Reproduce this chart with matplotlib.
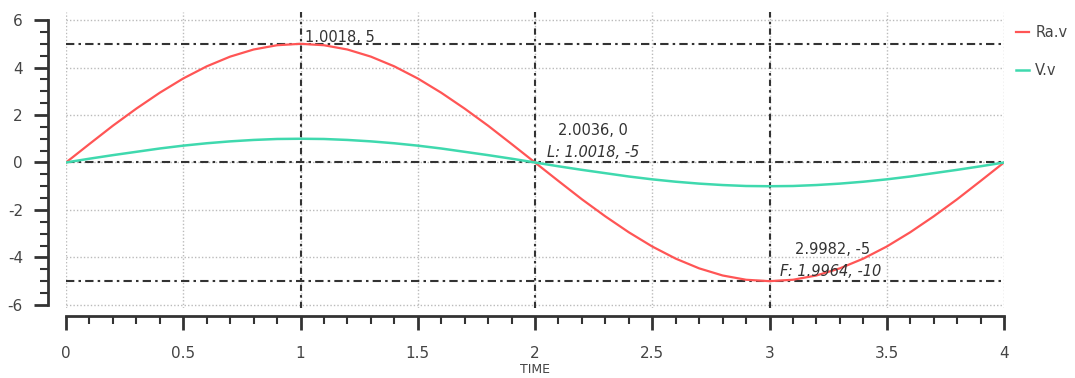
import matplotlib
matplotlib.use('Agg')
import matplotlib.pyplot as plt
from matplotlib.ticker import MultipleLocator

plt.rcParams['axes.unicode_minus'] = False

# values, every 0.1 of TIME
time = [0.0, 0.1, 0.2, 0.3, 0.4, 0.5, 0.6, 0.7, 0.8, 0.9, 1.0,
        1.1, 1.2, 1.3, 1.4, 1.5, 1.6, 1.7, 1.8, 1.9, 2.0,
        2.1, 2.2, 2.3, 2.4, 2.5, 2.6, 2.7, 2.8, 2.9, 3.0,
        3.1, 3.2, 3.3, 3.4, 3.5, 3.6, 3.7, 3.8, 3.9, 4.0]
ra_v = [0.0, 0.78, 1.55, 2.27, 2.94, 3.54, 4.05, 4.46, 4.76, 4.94, 5.0,
        4.94, 4.76, 4.46, 4.05, 3.54, 2.94, 2.27, 1.55, 0.78, 0.0,
        -0.78, -1.55, -2.27, -2.94, -3.54, -4.05, -4.46, -4.76, -4.94, -5.0,
        -4.94, -4.76, -4.46, -4.05, -3.54, -2.94, -2.27, -1.55, -0.78, 0.0]
v_v = [0.0, 0.16, 0.31, 0.45, 0.59, 0.71, 0.81, 0.89, 0.95, 0.99, 1.0,
       0.99, 0.95, 0.89, 0.81, 0.71, 0.59, 0.45, 0.31, 0.16, 0.0,
       -0.16, -0.31, -0.45, -0.59, -0.71, -0.81, -0.89, -0.95, -0.99, -1.0,
       -0.99, -0.95, -0.89, -0.81, -0.71, -0.59, -0.45, -0.31, -0.16, 0.0]

cursor_x = [1, 2, 3]
cursor_y = [5, 0, -5]
labels = [(1.02, 5.25, '1.0018, 5', 'normal'),
          (2.10, 1.35, '2.0036, 0', 'normal'),
          (2.05, 0.42, 'L: 1.0018, -5', 'italic'),
          (3.11, -3.66, '2.9982, -5', 'normal'),
          (3.045, -4.6, 'F: 1.9964, -10', 'italic')]

red = '#ff5555'
teal = '#3fd9ae'
dark = '#333333'

fig = plt.figure(figsize=(10.75, 3.78), dpi=100)
W, H = 1075, 378
ax = fig.add_axes([66 / W, 1 - 308 / H, (1004 - 66) / W, (308 - 12) / H])
ax.set_xlim(0, 4)
ax.set_ylim(-6.13, 6.34)

ax.grid(True, which='major', color='#bbbbbb', linestyle=(0, (1, 1.5)), linewidth=1)
for y in cursor_y:
    ax.axhline(y, color=dark, linewidth=1.5, dashes=(4, 2, 1.2, 2), zorder=2)
for x in cursor_x:
    ax.axvline(x, color=dark, linewidth=1.5, dashes=(3, 2, 1.2, 2), zorder=2)

ax.plot(time, ra_v, color=red, linewidth=1.6, label='Ra.v', zorder=3)
ax.plot(time, v_v, color=teal, linewidth=1.8, label='V.v', zorder=3)

for x, y, s, st in labels:
    ax.text(x, y, s, fontsize=10.5, color=dark, style=st, ha='left', va='center', zorder=4)

ax.xaxis.set_minor_locator(MultipleLocator(0.1))
ax.yaxis.set_minor_locator(MultipleLocator(0.5))
ax.set_xticks([0, 0.5, 1, 1.5, 2, 2.5, 3, 3.5, 4])
ax.set_xticklabels(['0', '0.5', '1', '1.5', '2', '2.5', '3', '3.5', '4'])
ax.set_yticks([-6, -4, -2, 0, 2, 4, 6])

for side in ['top', 'right']:
    ax.spines[side].set_visible(False)
ax.spines['left'].set_position(('outward', 13))
ax.spines['bottom'].set_position(('outward', 6))
ax.spines['left'].set_bounds(-6, 6)
for side in ['left', 'bottom']:
    ax.spines[side].set_linewidth(2)
    ax.spines[side].set_color(dark)

ax.tick_params(which='major', length=10, width=2, color=dark, labelsize=11, labelcolor='#444444')
ax.tick_params(which='minor', length=6, width=1.5, color=dark)
ax.tick_params(axis='x', which='major', pad=11)
ax.tick_params(axis='y', which='major', pad=8)
ax.set_xlabel('TIME', fontsize=9, color='#444444', labelpad=2)

ax.legend(loc='upper left', bbox_to_anchor=(0.999, 1.0), frameon=False, handlelength=0.9,
          handletextpad=0.4, labelspacing=1.55, fontsize=10.5, labelcolor='#444444')

fig.savefig('out.png', dpi=100, facecolor='white')
